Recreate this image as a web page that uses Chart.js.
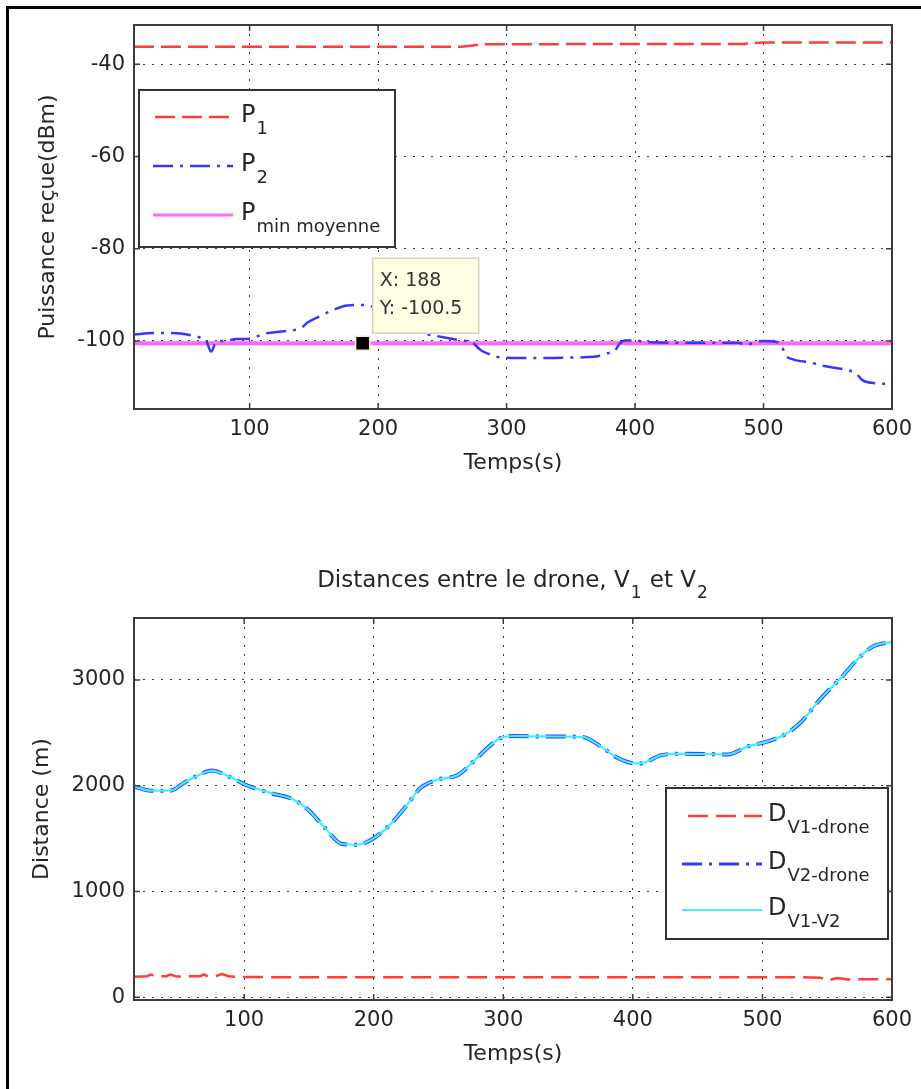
<!DOCTYPE html>
<html lang="fr">
<head>
    <meta charset="UTF-8">
    <title>Puissance reçue et distances</title>
    <!-- Chart.js -->
    <script src="https://cdn.jsdelivr.net/npm/chart.js"></script>
    <style>
        html, body { margin: 0; padding: 0; background: #fff; overflow: hidden; }
        body { width: 921px; height: 1089px; position: relative; }
        .cadre { position: absolute; left: 6px; top: 6px; width: 1000px; height: 1200px;
                 border-left: 3px solid #000; border-top: 3px solid #000; }
        #graphePuissance { position: absolute; left: 0; top: 0; }
        #grapheDistance { position: absolute; left: 0; top: 520px; }
    </style>
</head>
<body>
    <div class="cadre"></div>
    <canvas id="graphePuissance" width="921" height="480"></canvas>
    <canvas id="grapheDistance" width="921" height="569"></canvas>

    <script>
        // ---- Puissance reçue (dBm) ----
        const tempsP1 = [10, 100, 200, 265, 272, 280, 400, 485, 492, 500, 600];
        const puissanceP1 = [-36.2, -36.2, -36.2, -36.2, -36.0, -35.7, -35.6, -35.6, -35.4, -35.3, -35.3];

        const tempsP2 = [10, 25, 40, 55, 62, 66, 70, 74, 80, 90, 100, 112, 127, 137, 141, 145, 155, 165, 176, 189,
                         196, 205, 215, 225, 234, 245, 255, 265, 273, 280, 288, 296, 310, 330, 350, 363, 371, 378,
                         384, 388, 392, 400, 410, 450, 480, 487, 494, 500, 510, 514, 517, 523, 537, 545, 555, 565,
                         572, 577, 588, 596, 600];
        const puissanceP2 = [-98.6, -98.3, -98.3, -98.8, -99.3, -99.8, -102.3, -100.2, -100.0, -99.6, -99.5, -98.4,
                             -97.9, -97.5, -97.0, -96.0, -94.6, -93.3, -92.3, -92.2, -92.6, -93.5, -95.5, -97.5,
                             -98.3, -98.9, -99.4, -99.9, -100.3, -102.0, -103.0, -103.6, -103.7, -103.7, -103.6,
                             -103.5, -103.3, -102.7, -102.2, -100.6, -99.9, -99.9, -100.3, -100.4, -100.4, -100.8,
                             -100.2, -100.0, -100.2, -100.9, -103.0, -104.0, -104.7, -105.3, -105.8, -106.3, -107.0,
                             -108.5, -109.2, -109.3, -109.2];

        const tempsPmin = [10, 600];
        const puissancePmin = [-100.5, -100.5];

        // repère (data tip)
        const repereX = [188];
        const repereY = [-100.5];

        const ticksTemps = [100, 200, 300, 400, 500, 600];
        const ticksPuissance = [-100, -80, -60, -40];

        // ---- Distances (m) ----
        const tempsDV1 = [15, 25, 28, 32, 40, 43, 48, 55, 66, 69, 72, 79, 83, 88, 95, 150, 250, 350, 450, 530,
                          545, 550, 553, 558, 566, 580, 600];
        const distanceV1Drone = [195, 200, 215, 198, 200, 215, 196, 198, 200, 218, 198, 205, 220, 200, 192, 190,
                                 190, 190, 190, 190, 185, 160, 168, 182, 168, 172, 172];

        const tempsD = [15, 28, 43, 54, 64, 75, 90, 101, 120, 138, 149, 162, 175, 187, 200, 213, 226, 236, 249,
                        265, 278, 290, 298, 308, 324, 345, 362, 375, 388, 398, 406, 422, 434, 455, 473, 489, 504,
                        517, 530, 545, 561, 576, 586, 600];
        const distanceV2Drone = [1994, 1953, 1953, 2031, 2095, 2143, 2077, 2009, 1932, 1870, 1777, 1607, 1452,
                                 1442, 1504, 1637, 1823, 1978, 2056, 2102, 2242, 2381, 2450, 2470, 2466, 2465,
                                 2459, 2372, 2264, 2217, 2211, 2289, 2301, 2300, 2295, 2372, 2419, 2481, 2605,
                                 2823, 3025, 3227, 3320, 3360];
        const distanceV1V2 = [1994, 1953, 1953, 2031, 2095, 2143, 2077, 2009, 1932, 1870, 1777, 1607, 1452,
                              1442, 1504, 1637, 1823, 1978, 2056, 2102, 2242, 2381, 2450, 2470, 2466, 2465,
                              2459, 2372, 2264, 2217, 2211, 2289, 2301, 2300, 2295, 2372, 2419, 2481, 2605,
                              2823, 3025, 3227, 3320, 3360];

        const ticksDistance = [0, 1000, 2000, 3000];

        // ---- style ----
        const POLICE = 'DejaVu Sans';
        const GRIS = '#262626';
        const ROUGE = '#ff3b3b';
        const BLEU = '#3636ff';
        const CYAN = '#38f2ff';
        const MAGENTA = 'rgba(255,0,255,0.6)';
        Chart.defaults.font.family = POLICE;
        Chart.defaults.color = GRIS;

        function points(xs, ys) {
            return xs.map((x, i) => ({ x: x, y: ys[i] }));
        }

        function axeX(min) {
            return {
                type: 'linear', min: min, max: 600,
                afterBuildTicks: s => { s.ticks = ticksTemps.map(v => ({ value: v })); },
                afterFit: s => { s.height = 70; },
                ticks: { autoSkip: false, maxRotation: 0, padding: 8, font: { size: 21 }, color: GRIS,
                         callback: v => String(v) },
                grid: { color: '#3a3a3a', lineWidth: 1, drawTicks: false, borderDash: [2, 7] },
                border: { display: false, dash: [2, 7] },
                title: { display: true, text: 'Temps(s)', font: { size: 22 }, color: GRIS,
                         padding: { top: 0, bottom: 3 } }
            };
        }

        function axeY(min, max, valeurs, titre, decalage) {
            return {
                type: 'linear', min: min, max: max,
                afterBuildTicks: s => { s.ticks = valeurs.map(v => ({ value: v })); },
                afterFit: s => { s.width = 134; },
                ticks: { autoSkip: false, padding: 9, font: { size: 21 }, color: GRIS, callback: v => String(v) },
                grid: { color: '#3a3a3a', lineWidth: 1, drawTicks: false, borderDash: [2, 7] },
                border: { display: false, dash: [2, 7] },
                title: { display: true, text: titre, font: { size: 22 }, color: GRIS,
                         padding: { top: decalage, bottom: 0 } }
            };
        }

        // texte avec indice (P1, DV1-drone...)
        function ecrireIndice(ctx, texte, indice, x, base, baseIndice, taille, tailleIndice) {
            ctx.fillStyle = GRIS;
            ctx.textAlign = 'left';
            ctx.textBaseline = 'alphabetic';
            ctx.font = taille + 'px "' + POLICE + '"';
            ctx.fillText(texte, x, base);
            const w = ctx.measureText(texte).width;
            ctx.font = tailleIndice + 'px "' + POLICE + '"';
            ctx.fillText(indice, x + w + 1, baseIndice);
        }

        // cadre des axes + petites graduations vers l'intérieur
        const cadreAxes = {
            id: 'cadreAxes',
            afterDatasetsDraw(chart) {
                const { ctx, chartArea: a, scales } = chart;
                ctx.save();
                ctx.strokeStyle = '#3c3c3c';
                ctx.lineWidth = 2;
                ctx.strokeRect(a.left, a.top, a.right - a.left, a.bottom - a.top);
                ctx.lineWidth = 1.5;
                ctx.beginPath();
                scales.x.ticks.forEach(t => {
                    const px = scales.x.getPixelForValue(t.value);
                    ctx.moveTo(px, a.bottom); ctx.lineTo(px, a.bottom - 6);
                    ctx.moveTo(px, a.top); ctx.lineTo(px, a.top + 6);
                });
                scales.y.ticks.forEach(t => {
                    const py = scales.y.getPixelForValue(t.value);
                    ctx.moveTo(a.left, py); ctx.lineTo(a.left + 6, py);
                    ctx.moveTo(a.right, py); ctx.lineTo(a.right - 6, py);
                });
                ctx.stroke();
                ctx.restore();
            }
        };

        // légende style MATLAB, échantillons pris sur les datasets
        function legendeMatlab(boite, entrees) {
            return {
                id: 'legendeMatlab',
                afterDraw(chart) {
                    const ctx = chart.ctx;
                    ctx.save();
                    ctx.fillStyle = '#fff';
                    ctx.fillRect(boite.x, boite.y, boite.l, boite.h);
                    ctx.strokeStyle = '#333';
                    ctx.lineWidth = 2;
                    ctx.strokeRect(boite.x, boite.y, boite.l, boite.h);
                    entrees.forEach(e => {
                        const ds = chart.data.datasets[e.index];
                        ctx.beginPath();
                        ctx.setLineDash(ds.borderDash || []);
                        ctx.strokeStyle = ds.borderColor;
                        ctx.lineWidth = Math.min(ds.borderWidth, 3);
                        ctx.moveTo(e.x0, e.y);
                        ctx.lineTo(boite.xLigne, e.y);
                        ctx.stroke();
                        ctx.setLineDash([]);
                        ecrireIndice(ctx, e.texte, e.indice, boite.xTexte, e.y + 5, e.y + 17, 24, 18);
                    });
                    ctx.restore();
                }
            };
        }

        // bulle du repère X / Y
        const bulleRepere = {
            id: 'bulleRepere',
            afterDraw(chart) {
                const px = chart.scales.x.getPixelForValue(repereX[0]);
                const py = chart.scales.y.getPixelForValue(repereY[0]);
                const ctx = chart.ctx;
                const bx = px + 10, by = py - 85;
                ctx.save();
                ctx.fillStyle = '#ffffe4';
                ctx.fillRect(bx, by, 106, 75);
                ctx.strokeStyle = '#d2d2c0';
                ctx.lineWidth = 1.5;
                ctx.strokeRect(bx, by, 106, 75);
                ctx.fillStyle = '#333';
                ctx.font = '19px "' + POLICE + '"';
                ctx.textAlign = 'left';
                ctx.textBaseline = 'middle';
                ctx.fillText('X: ' + repereX[0], bx + 7, py - 62);
                ctx.fillText('Y: ' + repereY[0], bx + 7, py - 34);
                ctx.restore();
            }
        };

        // titre avec indices
        const titreDistances = {
            id: 'titreDistances',
            afterDraw(chart) {
                const ctx = chart.ctx;
                const a = chart.chartArea;
                const morceaux = [
                    { t: 'Distances entre le drone, V', indice: false },
                    { t: '1', indice: true },
                    { t: ' et V', indice: false },
                    { t: '2', indice: true }
                ];
                ctx.save();
                ctx.fillStyle = GRIS;
                ctx.textBaseline = 'alphabetic';
                ctx.textAlign = 'left';
                let total = 0;
                morceaux.forEach(m => {
                    ctx.font = (m.indice ? 17 : 23) + 'px "' + POLICE + '"';
                    m.w = ctx.measureText(m.t).width + (m.indice ? 2 : 0);
                    total += m.w;
                });
                let x = (a.left + a.right) / 2 - total / 2;
                morceaux.forEach(m => {
                    ctx.font = (m.indice ? 17 : 23) + 'px "' + POLICE + '"';
                    ctx.fillText(m.t, x + (m.indice ? 1 : 0), m.indice ? 78 : 67);
                    x += m.w;
                });
                ctx.restore();
            }
        };

        const optionsCommunes = {
            responsive: false,
            animation: false,
            devicePixelRatio: 1,
            events: [],
            plugins: { legend: { display: false }, tooltip: { enabled: false } }
        };

        // ---- graphe 1 : puissance reçue ----
        new Chart(document.getElementById('graphePuissance'), {
            type: 'line',
            data: {
                datasets: [
                    { label: 'P1', data: points(tempsP1, puissanceP1), borderColor: ROUGE, borderWidth: 2.5,
                      borderDash: [20, 7], pointRadius: 0, tension: 0, order: 2 },
                    { label: 'P2', data: points(tempsP2, puissanceP2), borderColor: BLEU, borderWidth: 2.5,
                      borderDash: [20, 7, 3, 7], pointRadius: 0, cubicInterpolationMode: 'monotone', order: 1 },
                    { label: 'Pmin moyenne', data: points(tempsPmin, puissancePmin), borderColor: MAGENTA,
                      borderWidth: 4, pointRadius: 0, order: 3 },
                    { label: 'repère', data: points(repereX, repereY), showLine: false, pointStyle: 'rect',
                      pointRadius: 10, backgroundColor: '#000', borderColor: '#f2f2c0', borderWidth: 1.5, order: 0 }
                ]
            },
            options: Object.assign({}, optionsCommunes, {
                layout: { padding: { left: 0, right: 29, top: 25, bottom: 1 } },
                scales: {
                    x: axeX(10),
                    y: axeY(-114.75, -31.5, ticksPuissance, 'Puissance reçue(dBm)', 35)
                }
            }),
            plugins: [
                cadreAxes,
                legendeMatlab({ x: 139, y: 90, l: 256, h: 157, xLigne: 233, xTexte: 241 }, [
                    { index: 0, texte: 'P', indice: '1', y: 117, x0: 155 },
                    { index: 1, texte: 'P', indice: '2', y: 166, x0: 153 },
                    { index: 2, texte: 'P', indice: 'min moyenne', y: 215, x0: 153 }
                ]),
                bulleRepere
            ]
        });

        // ---- graphe 2 : distances ----
        new Chart(document.getElementById('grapheDistance'), {
            type: 'line',
            data: {
                datasets: [
                    { label: 'DV1-drone', data: points(tempsDV1, distanceV1Drone), borderColor: ROUGE,
                      borderWidth: 2.5, borderDash: [20, 8], pointRadius: 0, tension: 0, order: 2 },
                    { label: 'DV2-drone', data: points(tempsD, distanceV2Drone), borderColor: BLEU,
                      borderWidth: 4, borderDash: [20, 7, 3, 7], pointRadius: 0,
                      cubicInterpolationMode: 'monotone', order: 1 },
                    { label: 'DV1-V2', data: points(tempsD, distanceV1V2), borderColor: CYAN,
                      borderWidth: 2.2, pointRadius: 0, cubicInterpolationMode: 'monotone', order: 0 }
                ]
            },
            options: Object.assign({}, optionsCommunes, {
                layout: { padding: { left: 0, right: 29, top: 98, bottom: 19 } },
                scales: {
                    x: axeX(15),
                    y: axeY(-25, 3585, ticksDistance, 'Distance (m)', 29)
                }
            }),
            plugins: [
                cadreAxes,
                legendeMatlab({ x: 666, y: 268, l: 222, h: 151, xLigne: 762, xTexte: 768 }, [
                    { index: 0, texte: 'D', indice: 'V1-drone', y: 296, x0: 688 },
                    { index: 1, texte: 'D', indice: 'V2-drone', y: 344, x0: 682 },
                    { index: 2, texte: 'D', indice: 'V1-V2', y: 390, x0: 682 }
                ]),
                titreDistances
            ]
        });
    </script>
</body>
</html>
